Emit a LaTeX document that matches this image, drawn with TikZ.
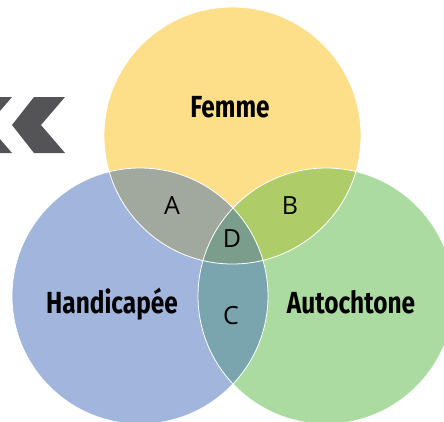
\documentclass[tikz,border=0pt]{standalone}
\usepackage{fontspec}
\newfontfamily\biglabel{Fira Sans}[FakeStretch=0.8]
\newfontfamily\smalllabel{Open Sans}
\definecolor{cyellow}{HTML}{FDDE89}
\definecolor{cblue}{HTML}{A2B5DC}
\definecolor{cgreen}{HTML}{ABDBA0}
\definecolor{cA}{HTML}{A1A89D}
\definecolor{cB}{HTML}{AECD69}
\definecolor{cC}{HTML}{7AA5AE}
\definecolor{cD}{HTML}{7B9E8C}
\definecolor{chev}{HTML}{545456}
\tikzset{
  setlabel/.style={font=\biglabel\bfseries\fontsize{30.5}{31}\selectfont, text=black, inner sep=0pt},
  zonelabel/.style={font=\smalllabel\fontsize{25}{26}\selectfont, text=black, inner sep=0pt},
  rim/.style={draw=white, line width=0.8pt},
}
\begin{document}
\begin{tikzpicture}[x=1pt,y=-1pt]
\useasboundingbox (0,0) rectangle (444,421);
\clip (0,0) rectangle (444,421);
\coordinate (cy) at (232.5,135.5);
\coordinate (cb) at (140,296);
\coordinate (cg) at (326,296);
\def\ry{128.5}
\def\rb{128}
\def\rg{128}
% base circles
\fill[cyellow] (cy) circle[radius=\ry];
\fill[cblue] (cb) circle[radius=\rb];
\fill[cgreen] (cg) circle[radius=\rg];
% pairwise overlaps
\begin{scope}
  \clip (cy) circle[radius=\ry];
  \fill[cA] (cb) circle[radius=\rb];
  \fill[cB] (cg) circle[radius=\rg];
\end{scope}
\begin{scope}
  \clip (cb) circle[radius=\rb];
  \fill[cC] (cg) circle[radius=\rg];
  \clip (cg) circle[radius=\rg];
  \fill[cD] (cy) circle[radius=\ry];
\end{scope}
% rims
\draw[rim] (cy) circle[radius=\ry];
\draw[rim] (cb) circle[radius=\rb];
\draw[rim] (cg) circle[radius=\rg];
% chevrons
\fill[chev] (34,97) -- (65,97) -- (41,125) -- (65,153) -- (34,153) -- (12,125) -- cycle;
\fill[chev] (-19,97) -- (12,97) -- (-12,125) -- (12,153) -- (-19,153) -- (-41,125) -- cycle;
% labels
\node[setlabel, anchor=base] (femme) at (230,117) {Femme};
\node[setlabel, anchor=base] (handi) at (112,313) {Handicapée};
\node[setlabel, anchor=base] (auto) at (351,313) {Autochtone};
\node[zonelabel] (zA) at (172,206) {A};
\node[zonelabel] (zB) at (290,206) {B};
\node[zonelabel] (zD) at (232,239) {D};
\node[zonelabel] (zC) at (231,316) {C};
\end{tikzpicture}
\end{document}
